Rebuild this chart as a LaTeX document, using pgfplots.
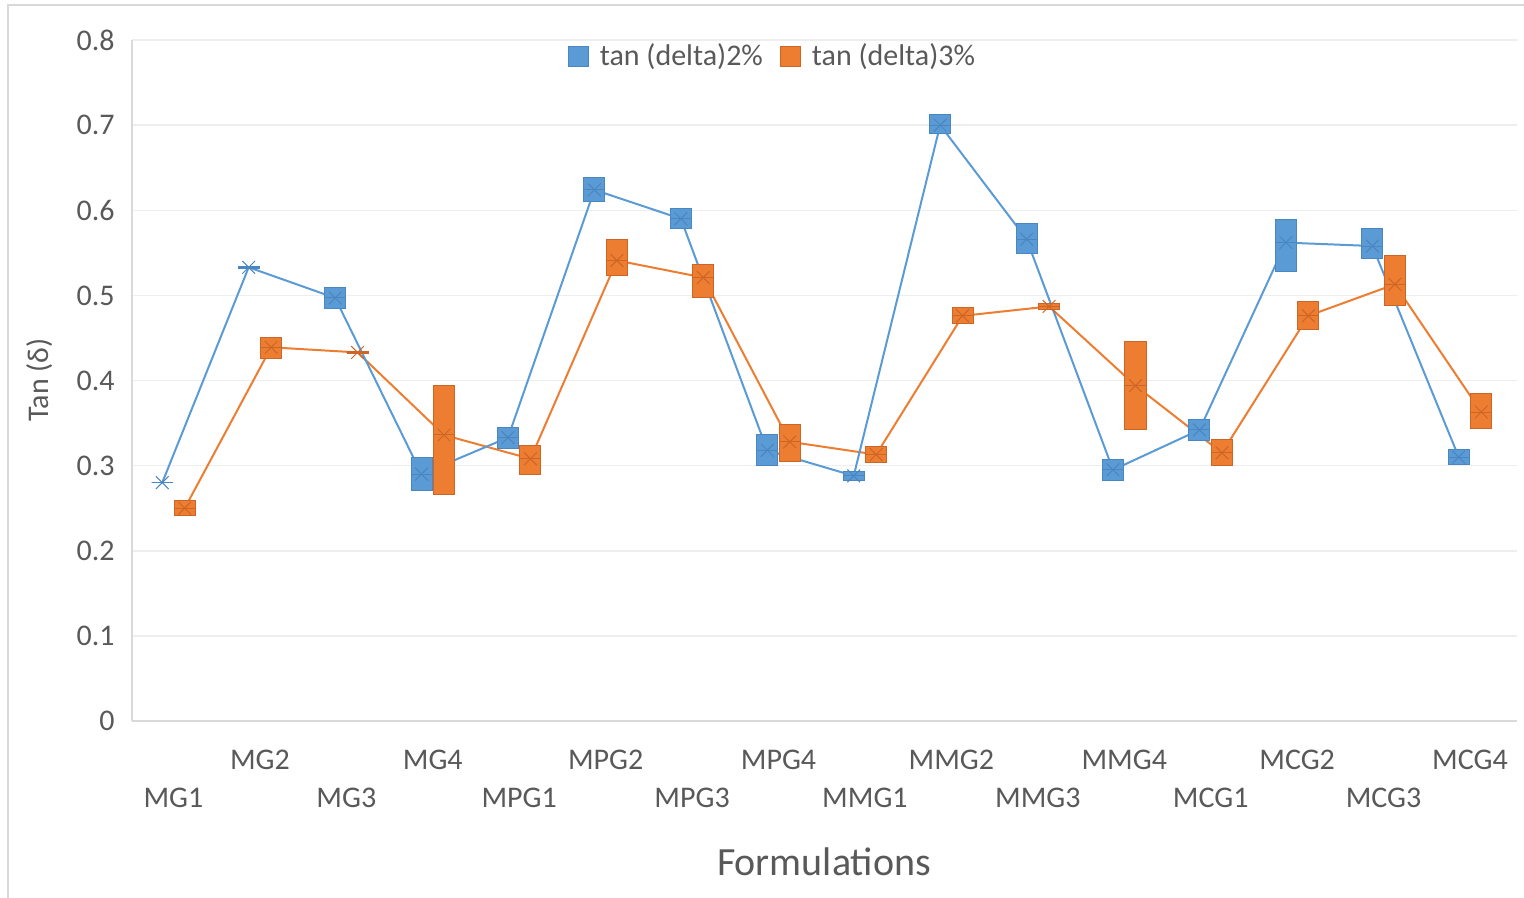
\documentclass[border=0pt]{standalone}
\usepackage{fontspec}
\setmainfont{Carlito}
\usepackage{pgfplots}
\pgfplotsset{compat=1.18}
\usepackage{pgfplotstable}

\definecolor{bfill}{HTML}{5B9BD5}
\definecolor{bedge}{HTML}{4A86BF}
\definecolor{ofill}{HTML}{ED7D31}
\definecolor{oedge}{HTML}{CC6526}
\definecolor{txt}{HTML}{595959}
\definecolor{axln}{HTML}{D9D9D9}
\definecolor{grd}{HTML}{EEEEEE}

% centre values of tan(delta) for each formulation
\pgfplotstableread{
i  mid2  mid3
0  0.280 0.250
1  0.533 0.439
2  0.497 0.433
3  0.290 0.336
4  0.333 0.308
5  0.624 0.541
6  0.590 0.521
7  0.318 0.328
8  0.288 0.313
9  0.700 0.476
10 0.566 0.487
11 0.295 0.394
12 0.342 0.315
13 0.562 0.476
14 0.558 0.513
15 0.310 0.363
}\tdtable

% one spread box: x position, low, centre, high, fill colour, edge colour
\newcommand{\tdbox}[6]{%
  \pgfmathsetmacro{\xa}{#1-0.1215}%
  \pgfmathsetmacro{\xb}{#1+0.1215}%
  \addplot[forget plot, draw=#6, fill=#5, line width=0.5pt]
    coordinates {(\xa,#2) (\xb,#2) (\xb,#4) (\xa,#4)} -- cycle;
  \addplot[forget plot, draw=#6, line width=0.5pt]
    coordinates {(\xa,#3) (\xb,#3)};}
\newcommand{\bbox}[4]{\tdbox{#1-0.13}{#2}{#3}{#4}{bfill}{bedge}}
\newcommand{\obox}[4]{\tdbox{#1+0.13}{#2}{#3}{#4}{ofill}{oedge}}

\begin{document}
\begin{tikzpicture}
\path[use as bounding box] (0pt,0pt) rectangle (762pt,-449pt);
\draw[axln, line width=0.75pt] (4pt,-449pt) -- (4pt,-2.5pt) -- (762pt,-2.5pt);
\begin{axis}[
  at={(66pt,-360.5pt)}, anchor=south west,
  scale only axis, width=692.5pt, height=340.5pt,
  xmin=-0.48, xmax=15.544, ymin=0, ymax=0.8,
  axis x line*=bottom, axis y line*=left,
  axis line style={draw=axln, line width=0.75pt, -},
  major tick length=0pt,
  ytick={0,0.1,0.2,0.3,0.4,0.5,0.6,0.7,0.8},
  ymajorgrids, grid style={draw=grd, line width=0.75pt},
  tick label style={text=txt, font=\fontsize{15}{18}\selectfont},
  yticklabel style={/pgf/number format/fixed, /pgf/number format/precision=1,
    /pgf/number format/assume math mode=true, anchor=east, inner sep=0pt, xshift=-8.5pt},
  xtick={0,1,...,15},
  xticklabels={MG1,\raisebox{19.25pt}{MG2},MG3,\raisebox{19.25pt}{MG4},
    MPG1,\raisebox{19.25pt}{MPG2},MPG3,\raisebox{19.25pt}{MPG4},
    MMG1,\raisebox{19.25pt}{MMG2},MMG3,\raisebox{19.25pt}{MMG4},
    MCG1,\raisebox{19.25pt}{MCG2},MCG3,\raisebox{19.25pt}{MCG4}},
  xticklabel style={anchor=base, inner sep=0pt, yshift=-43.25pt},
  xlabel={Formulations},
  xlabel style={at={(axis description cs:0.4996,-0.207)}, anchor=center,
    font=\fontsize{20}{24}\selectfont, text=txt},
  ylabel={Tan (δ)},
  ylabel style={at={(axis description cs:-0.0664,0.5007)}, anchor=center,
    font=\fontsize{15}{18}\selectfont, text=txt},
  legend style={at={(axis description cs:0.4635,1.007)}, anchor=north,
    draw=none, fill=none, legend columns=2, font=\fontsize{15}{18}\selectfont,
    text=txt, /tikz/every odd column/.append style={column sep=3.5pt},
    /tikz/every even column/.append style={column sep=7pt}},
  legend cell align=left,
]
\addlegendimage{only marks, mark=square*, mark size=5pt, mark options={fill=bfill, draw=bedge, line width=0.5pt}}
\addlegendentry{tan (delta)2\%}
\addlegendimage{only marks, mark=square*, mark size=5pt, mark options={fill=ofill, draw=oedge, line width=0.5pt}}
\addlegendentry{tan (delta)3\%}

% connecting lines
\addplot[forget plot, draw=ofill, line width=1pt] table[x expr=\thisrow{i}+0.13, y=mid3]{\tdtable};
\addplot[forget plot, draw=bfill, line width=1pt] table[x expr=\thisrow{i}-0.13, y=mid2]{\tdtable};

% spread boxes, tan (delta) 2%
\bbox{0}{0.280}{0.280}{0.280}
\bbox{1}{0.5315}{0.533}{0.5345}
\bbox{2}{0.485}{0.497}{0.5095}
\bbox{3}{0.271}{0.290}{0.310}
\bbox{4}{0.320}{0.333}{0.345}
\bbox{5}{0.610}{0.624}{0.639}
\bbox{6}{0.579}{0.590}{0.602}
\bbox{7}{0.2996}{0.318}{0.336}
\bbox{8}{0.283}{0.288}{0.293}
\bbox{9}{0.690}{0.700}{0.712}
\bbox{10}{0.549}{0.566}{0.585}
\bbox{11}{0.2824}{0.295}{0.3075}
\bbox{12}{0.329}{0.342}{0.3545}
\bbox{13}{0.5276}{0.562}{0.5895}
\bbox{14}{0.543}{0.558}{0.578}
\bbox{15}{0.3017}{0.310}{0.319}

% spread boxes, tan (delta) 3%
\obox{0}{0.242}{0.250}{0.2585}
\obox{1}{0.426}{0.439}{0.451}
\obox{2}{0.4315}{0.433}{0.4345}
\obox{3}{0.2664}{0.336}{0.394}
\obox{4}{0.290}{0.308}{0.3235}
\obox{5}{0.523}{0.541}{0.566}
\obox{6}{0.497}{0.521}{0.536}
\obox{7}{0.305}{0.328}{0.348}
\obox{8}{0.304}{0.313}{0.322}
\obox{9}{0.4665}{0.476}{0.486}
\obox{10}{0.483}{0.487}{0.491}
\obox{11}{0.342}{0.394}{0.4457}
\obox{12}{0.2996}{0.315}{0.331}
\obox{13}{0.4595}{0.476}{0.4927}
\obox{14}{0.4877}{0.513}{0.5464}
\obox{15}{0.344}{0.363}{0.385}

% point markers
\addplot[forget plot, only marks, mark=x, mark size=4.5pt, mark options={draw=oedge, line width=0.5pt}]
  table[x expr=\thisrow{i}+0.13, y=mid3]{\tdtable};
\addplot[forget plot, only marks, mark=x, mark size=4.5pt, mark options={draw=bedge, line width=0.5pt}]
  table[x expr=\thisrow{i}-0.13, y=mid2]{\tdtable};
\end{axis}
\end{tikzpicture}
\end{document}
